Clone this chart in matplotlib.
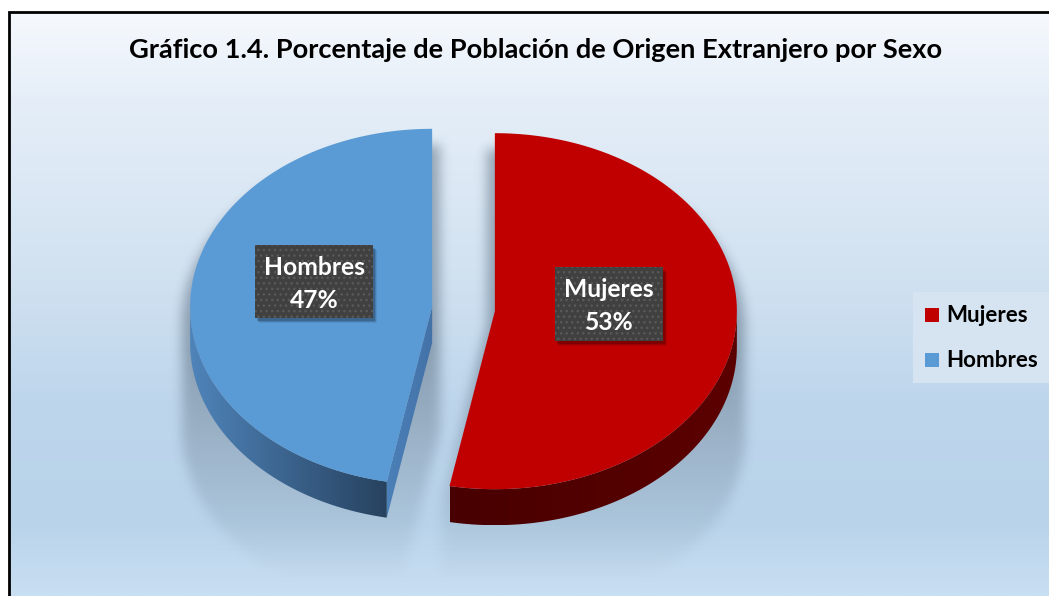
import numpy as np
import matplotlib
matplotlib.use('Agg')
import matplotlib.pyplot as plt
from matplotlib.patches import Polygon, Rectangle
from matplotlib.path import Path
from matplotlib.textpath import TextPath
from matplotlib.font_manager import FontProperties
from matplotlib.colors import to_rgb

title = 'Gráfico 1.4. Porcentaje de Población de Origen Extranjero por Sexo'
categories = ['Mujeres', 'Hombres']
values = [53, 47]
top_colors = ['#c00000', '#5b9bd5']

W, H = 1049, 596
fig = plt.figure(figsize=(W / 100, H / 100), dpi=100)
ax = fig.add_axes([0, 0, 1, 1])
ax.set_axis_off()

fp = FontProperties(family='Lato', weight='bold')


def size_for(s, px):
    # font size (pt) so that the ink of s is px pixels wide
    w = TextPath((0, 0), s, size=1, prop=fp).get_extents().width
    return px * 0.72 / w


def box(a, r, axis):
    a = np.swapaxes(a, 0, axis)
    p = np.pad(a, ((r + 1, r),) + ((0, 0),) * (a.ndim - 1), mode='edge')
    c = np.cumsum(p, axis=0)
    out = (c[2 * r + 1:] - c[:-2 * r - 1]) / (2 * r + 1)
    return np.swapaxes(out, 0, axis)


def blur(a, r):
    for _ in range(3):
        a = box(a, r, 0)
        a = box(a, r, 1)
    return a


def grad_fill(pts, c0, c1, z):
    pts = np.asarray(pts)
    patch = Polygon(pts, closed=True, facecolor='none', edgecolor='none')
    ax.add_patch(patch)
    x0, x1 = pts[:, 0].min(), pts[:, 0].max()
    y0, y1 = pts[:, 1].min(), pts[:, 1].max()
    g = np.linspace(0, 1, 256)
    a, b = np.array(to_rgb(c0)), np.array(to_rgb(c1))
    img = (a[None, :] * (1 - g[:, None]) + b[None, :] * g[:, None])[None, :, :]
    im = ax.imshow(img, extent=(x0, x1, y1, y0), aspect='auto', origin='upper',
                   zorder=z, interpolation='bilinear')
    im.set_clip_path(patch)


# background gradient inside the frame
stops_y = [12, 100, 270, 400, 520, 596]
stops_c = ['#f6f9fd', '#e5eef8', '#d2e2f1', '#bed6ec', '#b8d3ea', '#c9dff2']
ys = np.arange(12, 597)
rgb = np.array([to_rgb(c) for c in stops_c])
bg = np.stack([np.interp(ys, stops_y, rgb[:, k]) for k in range(3)], axis=-1)[:, None, :]
ax.imshow(bg, extent=(9, W, 596, 12), aspect='auto', origin='upper', zorder=0)
ax.plot([9, 9, W], [H, 12, 12], color='black', lw=2, zorder=20, solid_joinstyle='miter')

# pie geometry (pixels)
cx, cy = 463.5, 309
rx, ry = 242, 178
depth = 36
explode = 31.5

fracs = np.array(values) / sum(values)
slices = []
a = 90.0
for f in fracs:
    a0, a1 = a, a - 360 * f
    mid = np.radians((a0 + a1) / 2)
    ox = cx + explode * np.cos(mid)
    oy = cy - explode * (ry / rx) * np.sin(mid)
    slices.append((a0, a1, ox, oy))
    a = a1


def arc(ox, oy, t0, t1, n=240):
    t = np.radians(np.linspace(t0, t1, n))
    return np.column_stack([ox + rx * np.cos(t), oy - ry * np.sin(t)])


tops = []
for (a0, a1, ox, oy) in slices:
    tops.append(np.vstack([[ox, oy], arc(ox, oy, a0, a1)]))

# soft shadow under the pie
yy, xx = np.mgrid[0:H, 0:W]
grid = np.column_stack([xx.ravel() + 0.5, yy.ravel() + 0.5])
mask = np.zeros((H, W), bool)
for pts in tops:
    mask |= Path(pts).contains_points(grid).reshape(H, W)
off = 16
ext = np.zeros_like(mask)
ext[off:] = mask[:-off]
base = ext.copy()
for s in range(1, 111, 2):
    ext[s:] |= base[:-s]
base = ext.copy()
for s in range(1, 9):
    ext[:, s:] |= base[:, :-s]
    ext[:, :-s] |= base[:, s:]
sh = blur(ext.astype(float), 5)
fade = np.clip((580 - np.arange(H)) / 230, 0, 1)[:, None]
alpha = sh * fade * 0.55
shadow = np.zeros((H, W, 4))
shadow[..., :3] = to_rgb('#5c6f82')
shadow[..., 3] = alpha
shadow[:13, :, 3] = 0
shadow[:, :10, 3] = 0
ax.imshow(shadow, extent=(0, W, H, 0), aspect='auto', origin='upper', zorder=1)

# side faces
side_cols = {0: ('#480000', '#5c0000'), 1: ('#4f84ba', '#27425f')}
for i, (a0, a1, ox, oy) in enumerate(slices):
    lo, hi = min(a0, a1), max(a0, a1)
    for k in (-360, 0, 360):
        s0, s1 = max(lo, -180 + k), min(hi, 0 + k)
        if s1 > s0:
            p = arc(ox, oy, s0, s1)
            q = p[::-1] + [0, depth]
            grad_fill(np.vstack([p, q]), side_cols[i][0], side_cols[i][1], 3)
    # radial faces facing the viewer
    for edge, normal in ((a0, a0 + 90), (a1, a1 - 90)):
        if np.sin(np.radians(normal)) < -0.01:
            tip = arc(ox, oy, edge, edge, 1)[0]
            face = [[ox, oy], tip, tip + [0, depth], [ox, oy + depth]]
            grad_fill(face, '#4b80b8', '#4372a7', 3)

for i, pts in enumerate(tops):
    ax.add_patch(Polygon(pts, closed=True, facecolor=top_colors[i],
                         edgecolor='none', zorder=5))

# data labels
lab_fs = size_for('Hombres', 98)
label_boxes = {'Mujeres': (555, 267, 108, 74), 'Hombres': (255, 245, 118, 73)}
for name, v in zip(categories, values):
    x0, y0, w, h = label_boxes[name]
    for d, al in ((5, 0.08), (4, 0.12), (3, 0.18)):
        ax.add_patch(Rectangle((x0 + d - 1, y0 + d), w, h, facecolor='black',
                               edgecolor='none', alpha=al, zorder=6))
    ax.add_patch(Rectangle((x0, y0), w, h, facecolor='#404040', edgecolor='#595959',
                           hatch='...', lw=0, zorder=7))
    ax.text(x0 + w / 2, y0 + 30, name, color='white', fontproperties=fp,
            fontsize=lab_fs, ha='center', va='baseline', zorder=8)
    ax.text(x0 + w / 2, y0 + 63, f'{v}%', color='white', fontproperties=fp,
            fontsize=lab_fs, ha='center', va='baseline', zorder=8)

# legend
ax.add_patch(Rectangle((913, 292), 136, 91, facecolor='#d6e4f2', edgecolor='none', zorder=4))
leg_fs = size_for('Hombres', 89)
for i, name in enumerate(categories):
    yb = 322 + 45 * i
    ax.add_patch(Rectangle((925, yb - 14), 14, 14, facecolor=top_colors[i],
                           edgecolor='none', zorder=5))
    ax.text(946, yb, name, fontproperties=fp, fontsize=leg_fs, color='black',
            ha='left', va='baseline', zorder=5)

ax.text(536, 58, title, fontproperties=fp, fontsize=size_for(title, 812),
        color='black', ha='center', va='baseline', zorder=10)

ax.set_xlim(0, W)
ax.set_ylim(H, 0)
fig.savefig('out.png', dpi=100, facecolor='white')
